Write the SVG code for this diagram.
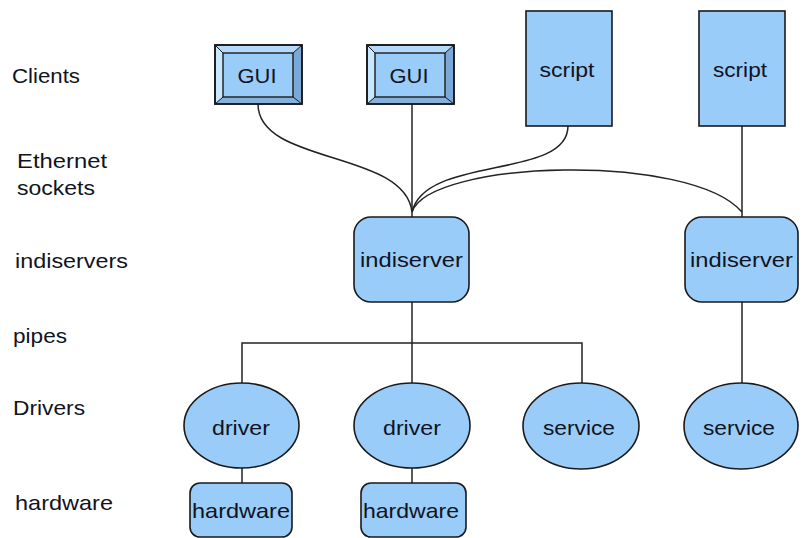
<svg xmlns="http://www.w3.org/2000/svg" width="805" height="538" viewBox="0 0 805 538">
<style>
  .shape { fill: #99ccf8; stroke: #1a1a1a; stroke-width: 1.6; }
  .conn { fill: none; stroke: #222; stroke-width: 1.5; }
  text { font-family: "Liberation Sans", Arial, sans-serif; font-size: 21px; fill: #111322; }
  .c { text-anchor: middle; }
  .bev-t { fill: #b3dafc; }
  .bev-l { fill: #c8e8ff; }
  .bev-r { fill: #7aa8d8; }
  .bev-b { fill: #86b1dd; }
</style>
<rect width="805" height="538" fill="#ffffff"/>

<g id="labels">
  <text x="12" y="83" textLength="68" lengthAdjust="spacingAndGlyphs">Clients</text>
  <text x="17" y="168" textLength="90" lengthAdjust="spacingAndGlyphs">Ethernet</text>
  <text x="17" y="195" textLength="78" lengthAdjust="spacingAndGlyphs">sockets</text>
  <text x="15" y="268" textLength="113" lengthAdjust="spacingAndGlyphs">indiservers</text>
  <text x="13" y="343" textLength="54" lengthAdjust="spacingAndGlyphs">pipes</text>
  <text x="13" y="415" textLength="72" lengthAdjust="spacingAndGlyphs">Drivers</text>
  <text x="15" y="510" textLength="98" lengthAdjust="spacingAndGlyphs">hardware</text>
</g>

<g id="connectors">
  <path class="conn" d="M258,104 C258,165 405,150 412,212"/>
  <path class="conn" d="M412,104 L412,217"/>
  <path class="conn" d="M568,126 C568,180 425,155 412,212"/>
  <path class="conn" d="M412,212 C430,160 690,152 742,212"/>
  <path class="conn" d="M742,126 L742,217"/>
  <path class="conn" d="M412,302 L412,383"/>
  <path class="conn" d="M242,383 L242,343 L582,343 L582,383"/>
  <path class="conn" d="M742,302 L742,383"/>
  <path class="conn" d="M242,468 L242,483"/>
  <path class="conn" d="M412,468 L412,483"/>
</g>

<g id="gui1">
  <rect class="shape" x="215" y="45" width="87" height="59"/>
  <polygon class="bev-t" points="216,46 301,46 293,53 223,53"/>
  <polygon class="bev-l" points="216,46 223,53 223,97 216,103"/>
  <polygon class="bev-r" points="301,46 301,103 293,97 293,53"/>
  <polygon class="bev-b" points="216,103 223,97 293,97 301,103"/>
  <rect x="215" y="45" width="87" height="59" fill="none" stroke="#1a1a1a" stroke-width="1.6"/>
  <rect x="223" y="53" width="70" height="44" fill="none" stroke="#1a1a1a" stroke-width="1.4"/>
  <path d="M215,45 L223,53 M302,45 L293,53 M215,104 L223,97 M302,104 L293,97" stroke="#1a1a1a" stroke-width="1"/>
  <text class="c" x="257" y="83" textLength="39" lengthAdjust="spacingAndGlyphs">GUI</text>
</g>

<g id="gui2">
  <rect class="shape" x="367" y="45" width="87" height="59"/>
  <polygon class="bev-t" points="368,46 453,46 445,53 375,53"/>
  <polygon class="bev-l" points="368,46 375,53 375,97 368,103"/>
  <polygon class="bev-r" points="453,46 453,103 445,97 445,53"/>
  <polygon class="bev-b" points="368,103 375,97 445,97 453,103"/>
  <rect x="367" y="45" width="87" height="59" fill="none" stroke="#1a1a1a" stroke-width="1.6"/>
  <rect x="375" y="53" width="70" height="44" fill="none" stroke="#1a1a1a" stroke-width="1.4"/>
  <path d="M367,45 L375,53 M454,45 L445,53 M367,104 L375,97 M454,104 L445,97" stroke="#1a1a1a" stroke-width="1"/>
  <text class="c" x="409" y="83" textLength="39" lengthAdjust="spacingAndGlyphs">GUI</text>
</g>

<g id="script1">
  <rect class="shape" x="526" y="11" width="86" height="115"/>
  <text class="c" x="567" y="77" textLength="55" lengthAdjust="spacingAndGlyphs">script</text>
</g>

<g id="script2">
  <rect class="shape" x="699" y="11" width="86" height="115"/>
  <text class="c" x="740" y="77" textLength="54" lengthAdjust="spacingAndGlyphs">script</text>
</g>

<g id="indiserver1">
  <rect class="shape" x="354" y="217" width="115" height="85" rx="17" ry="17"/>
  <text class="c" x="411.5" y="267" textLength="103" lengthAdjust="spacingAndGlyphs">indiserver</text>
</g>

<g id="indiserver2">
  <rect class="shape" x="685" y="217" width="113" height="85" rx="17" ry="17"/>
  <text class="c" x="741.5" y="267" textLength="103" lengthAdjust="spacingAndGlyphs">indiserver</text>
</g>

<g id="driver1">
  <ellipse class="shape" cx="241.5" cy="425.5" rx="57.5" ry="42.5"/>
  <text class="c" x="241" y="435" textLength="58" lengthAdjust="spacingAndGlyphs">driver</text>
</g>

<g id="driver2">
  <ellipse class="shape" cx="412" cy="425.5" rx="58" ry="42.5"/>
  <text class="c" x="412" y="435" textLength="58" lengthAdjust="spacingAndGlyphs">driver</text>
</g>

<g id="service1">
  <ellipse class="shape" cx="581" cy="426" rx="58" ry="43"/>
  <text class="c" x="579" y="435" textLength="72" lengthAdjust="spacingAndGlyphs">service</text>
</g>

<g id="service2">
  <ellipse class="shape" cx="741" cy="426" rx="57" ry="43"/>
  <text class="c" x="739" y="435" textLength="72" lengthAdjust="spacingAndGlyphs">service</text>
</g>

<g id="hardware1">
  <rect class="shape" x="190" y="483" width="102" height="54" rx="10" ry="10"/>
  <text class="c" x="241" y="518" textLength="98" lengthAdjust="spacingAndGlyphs">hardware</text>
</g>

<g id="hardware2">
  <rect class="shape" x="361" y="483" width="105" height="54" rx="10" ry="10"/>
  <text class="c" x="411" y="518" textLength="96" lengthAdjust="spacingAndGlyphs">hardware</text>
</g>
</svg>
